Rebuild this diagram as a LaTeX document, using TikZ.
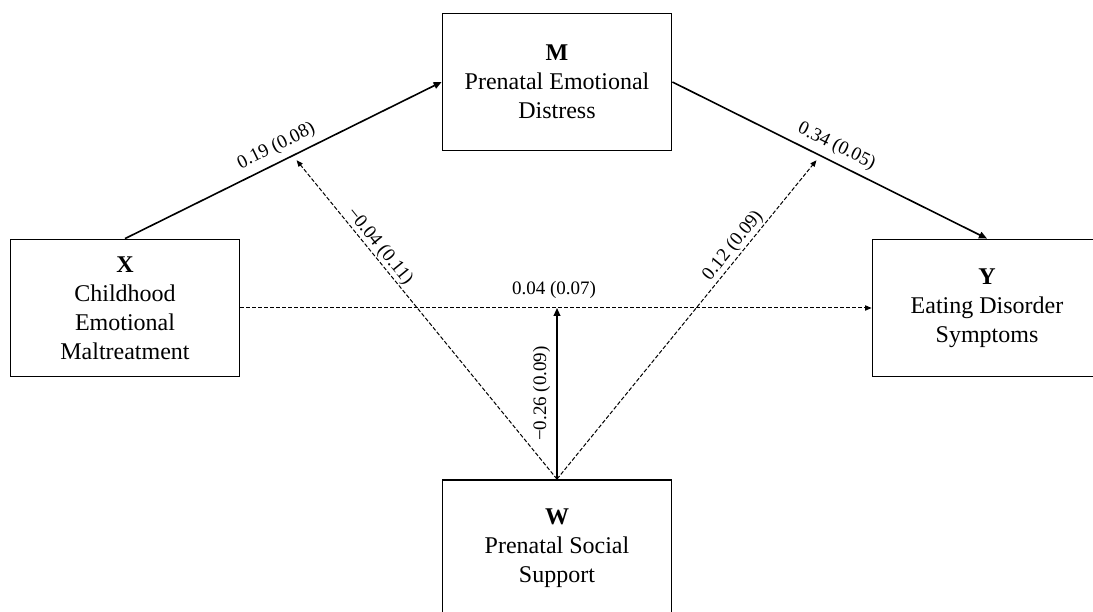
\documentclass[tikz,border=0pt]{standalone}
\usepackage{fontspec}
\setmainfont{Liberation Serif}
\usetikzlibrary{arrows.meta,calc}

\begin{document}
\begin{tikzpicture}[x=0.5pt, y=0.5pt, >={Triangle[length=4pt,width=3.4pt]},
  var/.style={draw, line width=0.9pt, minimum width=114.5pt, minimum height=68.5pt, inner sep=0pt, align=center, font=\fontsize{12}{14.5}\selectfont},
  effect/.style={->, line width=0.8pt},
  probe/.style={->, line width=0.5pt, dash pattern=on 2pt off 1pt, >={Triangle[length=3.2pt,width=2.6pt]}},
  coef/.style={font=\fontsize{9.5}{11}\selectfont, sloped}]
\clip (0,0) rectangle (1093,611);
\node[var] (m) at (557,529) {\textbf{M}\\Prenatal Emotional\\Distress};
\node[var] (x) at (125,303) {\textbf{X}\\Childhood\\Emotional\\Maltreatment};
\node[var] (y) at (987,303) {\textbf{Y}\\Eating Disorder\\Symptoms};
\node[var] (w) at (557,62.5) {\textbf{W}\\Prenatal Social\\Support};
% points where W moderates the paths
\coordinate (xm) at ($(x.north)!0.53!(m.west)$);
\coordinate (my) at ($(m.east)!0.47!(y.north)$);
\coordinate (xy) at (w.north |- x.east);
\draw[effect] (x.north) -- node[coef, above, inner sep=3pt] {0.19 (0.08)} (m.west);
\draw[effect] (m.east) -- node[coef, above, inner sep=3pt] {0.34 (0.05)} (y.north);
\draw[probe] (x.east) -- node[coef, above=1pt, pos=0.497] {0.04 (0.07)} (y.west);
\draw[effect] (w.north) -- node[coef, above, inner sep=3pt] {−0.26 (0.09)} (xy);
\draw[probe, shorten >=3pt] (w.north) -- node[coef, above, pos=0.7, inner sep=0.3pt] {−0.04 (0.11)} (xm);
\draw[probe, shorten >=3pt] (w.north) -- node[coef, above, pos=0.7, inner sep=0.8pt] {0.12 (0.09)} (my);
\end{tikzpicture}
\end{document}
